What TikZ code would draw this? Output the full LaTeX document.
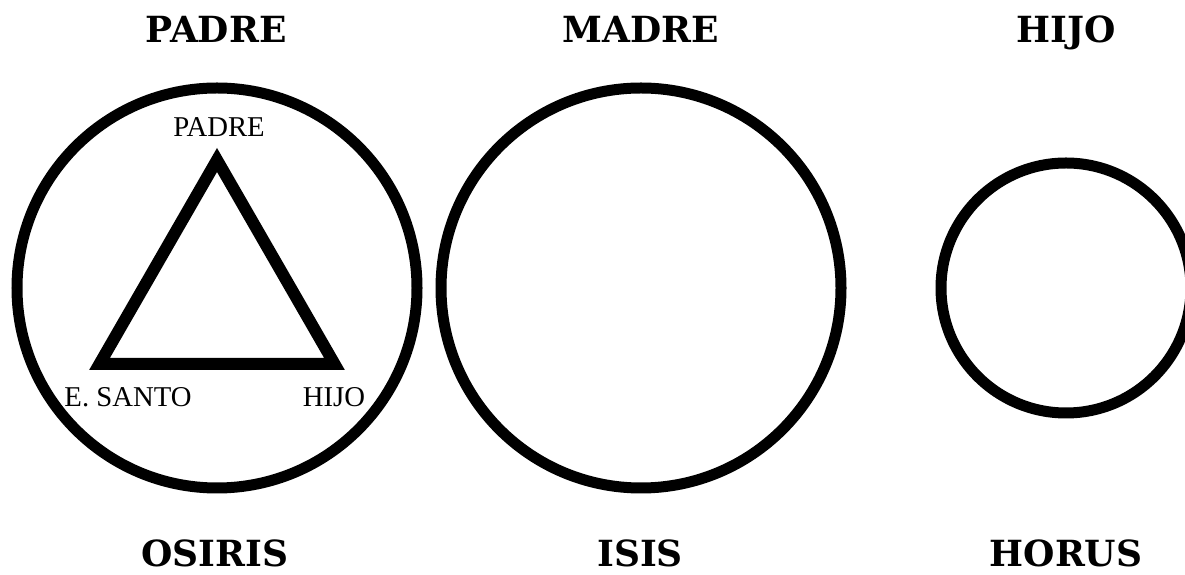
\documentclass[tikz,border=0pt]{standalone}
\usepackage{fontspec}
\newfontfamily\titlefont{DejaVu Serif}
\newfontfamily\smallfont{Liberation Serif}
\usetikzlibrary{positioning}

\begin{document}
\begin{tikzpicture}[
  x=1pt, y=1pt,
  ring/.style={circle, draw=black, line width=11pt, inner sep=0pt},
  title/.style={anchor=base, inner sep=0pt,
                font=\titlefont\bfseries\fontsize{36}{40}\selectfont},
  tag/.style={anchor=base, inner sep=0pt,
              font=\smallfont\fontsize{28.7}{32}\selectfont}
]
\useasboundingbox (0,0) rectangle (1185,575);

% circles
\node[ring, minimum size=400pt] (osiris) at (217, 287) {};
\node[ring, minimum size=400pt] (isis) at (641, 287) {};
\node[ring, minimum size=250pt] (horus) at (1066, 287) {};

% triangle
\coordinate (tp) at (217, 415);
\coordinate (tl) at (99.5, 211);
\coordinate (tr) at (334.5, 211);
\draw[line width=12pt, line join=miter] (tp) -- (tl) -- (tr) -- cycle;

% triangle labels
\node[tag] (padre) at (219, 438) {PADRE};
\node[tag] (santo) at (128, 168) {E. SANTO};
\node[tag] (hijo) at (334, 168) {HIJO};

% top row
\node[title] (t1) at (216, 532) {PADRE};
\node[title] (t2) at (641, 532) {MADRE};
\node[title] (t3) at (1066, 532) {HIJO};

% bottom row
\node[title] (b1) at (215, 8) {OSIRIS};
\node[title] (b2) at (640, 8) {ISIS};
\node[title] (b3) at (1066, 8) {HORUS};
\end{tikzpicture}
\end{document}
